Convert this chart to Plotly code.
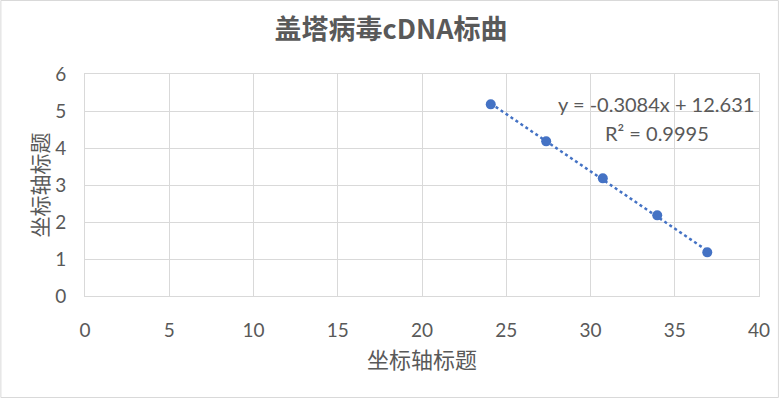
import numpy as np
import plotly.graph_objects as go

# ---- data ----
ct_values = [24.08, 27.37, 30.73, 33.96, 36.93]
log_copies = [5.18, 4.18, 3.18, 2.18, 1.18]
x_ticks = [0, 5, 10, 15, 20, 25, 30, 35, 40]
y_ticks = [0, 1, 2, 3, 4, 5, 6]
title_text = "盖塔病毒cDNA标曲"
x_title = "坐标轴标题"
y_title = "坐标轴标题"
eq_line1 = "y = -0.3084x + 12.631"
eq_line2 = "R² = 0.9995"

W, H = 782, 398
L, R, T, B = 85, 20, 74, 102
PW, PH = W - L - R, H - T - B

def px_x(p):
    return (p - L) / PW

def px_y(p):
    return (H - B - p) / PH

text_color = "#595959"
grid_color = "#D9D9D9"
blue = "#4472C4"
latin = "Lato, 'Noto Sans', sans-serif"
cjk = "'Noto Sans CJK SC', sans-serif"

slope, intercept = np.polyfit(ct_values, log_copies, 1)
tx = np.array([min(ct_values), max(ct_values)])
ty = slope * tx + intercept

fig = go.Figure()
fig.add_trace(go.Scatter(x=tx, y=ty, mode="lines",
                         line=dict(color=blue, width=2.5, dash="dot"),
                         hoverinfo="skip", showlegend=False))
fig.add_trace(go.Scatter(x=ct_values, y=log_copies, mode="markers",
                         marker=dict(color=blue, size=10),
                         showlegend=False))

fig.update_layout(
    width=W, height=H,
    margin=dict(l=L, r=R, t=T, b=B),
    paper_bgcolor="white", plot_bgcolor="white",
    title=dict(text=title_text, x=0.5, xref="container", xanchor="center",
               y=1 - 30 / H, yanchor="middle",
               font=dict(family=cjk, size=27, color=text_color, weight="bold")),
    xaxis=dict(range=[0, 40], tickvals=x_ticks, showgrid=True,
               gridcolor=grid_color, gridwidth=1, zeroline=False,
               showline=True, linecolor=grid_color, linewidth=1, mirror=True,
               ticks="outside", ticklen=17, tickcolor="rgba(0,0,0,0)",
               tickfont=dict(family=latin, size=19, color=text_color),
               title=dict(text=x_title, standoff=12,
                          font=dict(family=cjk, size=22, color=text_color))),
    yaxis=dict(range=[0, 6], tickvals=y_ticks, showgrid=True,
               gridcolor=grid_color, gridwidth=1, zeroline=False,
               showline=True, linecolor=grid_color, linewidth=1, mirror=True,
               ticks="outside", ticklen=14, tickcolor="rgba(0,0,0,0)",
               tickfont=dict(family=latin, size=19, color=text_color),
               title=dict(text=y_title, standoff=0,
                          font=dict(family=cjk, size=21, color=text_color))),
)

fig.add_annotation(text=eq_line1, xref="paper", yref="paper",
                   x=px_x(659), y=px_y(104), xanchor="center", yanchor="middle",
                   showarrow=False, font=dict(family=latin, size=20, color=text_color))
fig.add_annotation(text=eq_line2, xref="paper", yref="paper",
                   x=px_x(660), y=px_y(133), xanchor="center", yanchor="middle",
                   showarrow=False, font=dict(family=latin, size=20, color=text_color))

fig.add_shape(type="rect", xref="paper", yref="paper",
              x0=px_x(0.5), x1=px_x(W - 0.5), y0=px_y(H - 0.5), y1=px_y(0.5),
              line=dict(color=grid_color, width=1), layer="below")

fig.write_html("out.html")
